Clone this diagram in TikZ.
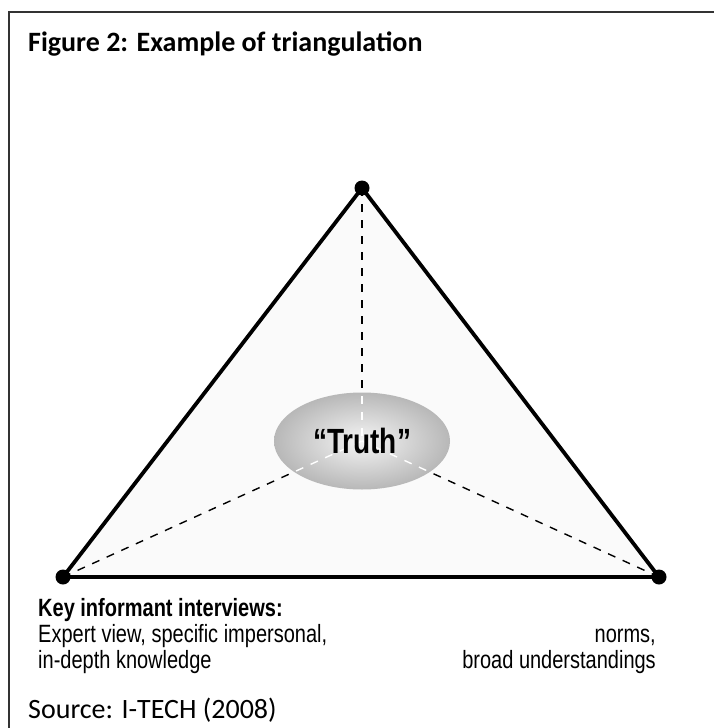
\documentclass[tikz,border=0pt]{standalone}
\usepackage{fontspec}
\usetikzlibrary{shapes.geometric}
\setmainfont{Carlito}
\newfontfamily\cond[FakeStretch=0.8]{Liberation Sans}
\begin{document}
\begin{tikzpicture}[x=1pt,y=-1pt,
  vtx/.style={circle,fill=black,inner sep=0pt,minimum size=15pt},
  edge/.style={line width=3.8pt,line join=round},
  spoke/.style={line width=1.4pt,dash pattern=on 8pt off 8pt},
  lbl/.style={inner sep=0pt,font=\cond\fontsize{25}{30}\selectfont},
  frameline/.style={draw=black!80,line width=1.6pt}]
\useasboundingbox (0,0) rectangle (713,728);
\fill[white] (0,0) rectangle (713,728);
\draw[frameline] (9,730) -- (9,12) -- (715,12);
% vertices
\coordinate (T) at (362,188);
\coordinate (L) at (63,577);
\coordinate (R) at (659,577);
\coordinate (C) at (362,441);
\fill[black!2] (T) -- (L) -- (R) -- cycle;
\draw[spoke] (T) -- (C);
\draw[spoke] (L) -- (C);
\draw[spoke] (R) -- (C);
\node[ellipse,minimum width=176pt,minimum height=97pt,inner sep=0pt,
  shading=radial,inner color=black!4,outer color=black!28] (truth) at (C) {};
\begin{scope}
\clip (C) ellipse [x radius=88pt, y radius=48.5pt];
\draw[spoke,white] (T) -- (C);
\draw[spoke,white] (L) -- (C);
\draw[spoke,white] (R) -- (C);
\end{scope}
\node[inner sep=0pt,anchor=base,font=\cond\bfseries\fontsize{35}{40}\selectfont] at (362,453) {“Truth”};
\draw[edge] (T) -- (L) -- (R) -- cycle;
\node[vtx] (vT) at (T) {};
\node[vtx] (vL) at (L) {};
\node[vtx] (vR) at (R) {};
% texts
\node[anchor=base west,inner sep=0pt,font=\bfseries\fontsize{28}{32}\selectfont] (title) at (28,51) {Figure 2: Example of triangulation};
\node[lbl,anchor=base west,font=\cond\bfseries\fontsize{25}{30}\selectfont] (key) at (38,616) {Key informant interviews:};
\node[lbl,anchor=base west] (exp1) at (38,642) {Expert view, specific impersonal,};
\node[lbl,anchor=base west] (exp2) at (38,668) {in-depth knowledge};
\node[lbl,anchor=base east] (nor1) at (656,642) {norms,};
\node[lbl,anchor=base east] (nor2) at (656,668) {broad understandings};
\node[anchor=base west,inner sep=0pt,font=\fontsize{28}{32}\selectfont] (src) at (28,718) {Source: I-TECH (2008)};
\end{tikzpicture}
\end{document}
